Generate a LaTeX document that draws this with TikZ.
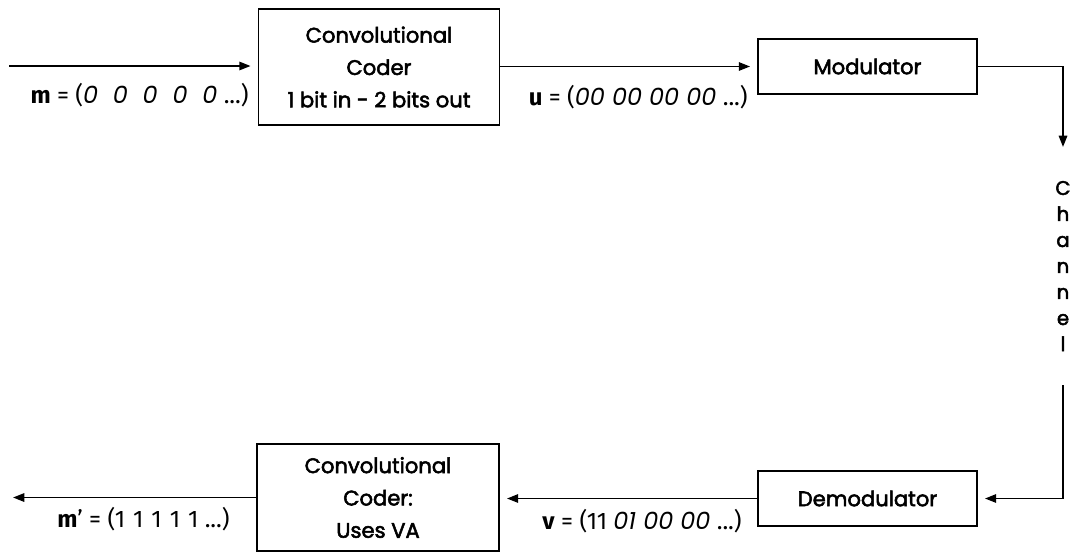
\documentclass[tikz,border=0pt]{standalone}
\usepackage{fontspec}
\setmainfont{Poppins}
\newfontfamily\blockfont{Poppins}[FakeBold=2.5]
\newfontfamily\labelfont{Fira Sans}
\usetikzlibrary{arrows.meta}

\tikzset{
  block/.style={draw, line width=1.3pt, inner sep=0pt, align=center,
    font={\blockfont\fontsize{15}{23}\selectfont}},
  arr/.style={line width=1.2pt, -{Triangle[length=8pt,width=6pt]}, shorten >=5pt},
  seq/.style={inner sep=0pt, font={\labelfont\fontsize{17}{17}\selectfont}},
}
\newcommand{\digs}[1]{{\rmfamily\itshape #1}}

\begin{document}
\begin{tikzpicture}[x=0.025cm, y=-0.025cm]
\useasboundingbox (0,0) rectangle (1073,555);

% coder chain, top row
\node [block, minimum width=6.025cm, minimum height=2.9cm] (coder) at (379,67)
  {Convolutional\\ Coder\\ 1 bit in - 2 bits out};
\node [block, minimum width=5.475cm, minimum height=1.375cm] (mod) at (867.5,66.5) {Modulator};

% bottom row
\node [block, minimum width=5.475cm, minimum height=1.375cm] (demod) at (867.5,498.5) {Demodulator};
\node [block, minimum width=6.05cm, minimum height=2.675cm] (decoder) at (378,497.5)
  {Convolutional\\ Coder:\\ Uses VA};

% channel text
\node [inner sep=0pt, align=center, font={\blockfont\fontsize{14}{18.5}\selectfont}] (chan) at (1063,266)
  {C\\ h\\ a\\ n\\ n\\ e\\ l};

\coordinate (in) at (9,66);
\coordinate (chtop) at (1063,154);
\coordinate (chbot) at (1063,385);
\coordinate (out) at (6,497.5);

\draw [arr] (in) -- (coder.west |- in);
\draw [arr] (coder.east |- mod.west) -- (mod.west);
\draw [arr] (mod.east) -| (chtop);
\draw [arr] (chbot) |- (demod.east);
\draw [arr] (demod.west) -- (decoder.east |- demod.west);
\draw [arr] (decoder.west) -- (out);

% sequences
\node [seq, anchor=east] (mseq) at (249,95) {\textbf{m} = (\digs{0\hspace{0.62em}0\hspace{0.62em}0\hspace{0.62em}0\hspace{0.62em}0} ...)};
\node [seq, anchor=east] (useq) at (748,97) {\textbf{u} = (\digs{00 00 00 00} ...)};
\node [seq, anchor=east] (vseq) at (742,521) {\textbf{v} = (11 \digs{01 00 00} ...)};
\node [seq, anchor=east] (mhat) at (230,519) {\textbf{m}’ = (1\,\,1\,\,1\,\,1\,\,1 ...)};

\end{tikzpicture}
\end{document}
